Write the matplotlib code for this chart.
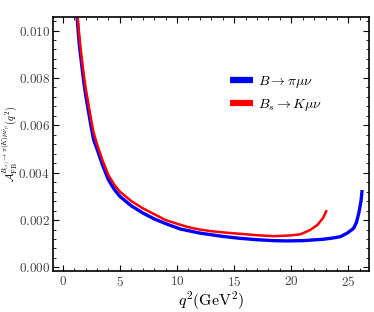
import matplotlib
matplotlib.use("Agg")
import matplotlib.pyplot as plt
from matplotlib.ticker import MultipleLocator, FuncFormatter

plt.rcParams['mathtext.fontset'] = 'cm'
plt.rcParams['font.family'] = ['DejaVu Serif']

# B -> pi mu nu (blue)
q2_B = [1.0, 1.25, 1.45, 1.6, 1.85, 2.0, 2.25, 2.5, 2.7, 3.0, 3.5, 4.0, 4.5, 5.0, 6.0, 7.0, 8.0, 9.0,
        10.3, 11.0, 12.0, 13.0, 14.0, 15.5, 17.0, 18.5, 19.6, 21.0, 22.8, 23.6, 24.3, 24.9, 25.45,
        25.7, 25.9, 26.1, 26.2]
A_B = [0.0135, 0.0106, 0.0094, 0.0088, 0.0078, 0.0073, 0.0066, 0.0059, 0.0054, 0.0050, 0.0043, 0.0037,
       0.0033, 0.0030, 0.0026, 0.0023, 0.00205, 0.00185, 0.00162, 0.00155, 0.00145, 0.00138, 0.00131,
       0.00123, 0.00117, 0.00113, 0.00112, 0.00113, 0.00119, 0.00124, 0.0013, 0.00145, 0.00165,
       0.0019, 0.00228, 0.0028, 0.00327]

# Bs -> K mu nu (red)
q2_Bs = [1.1, 1.3, 1.45, 1.6, 1.85, 2.0, 2.25, 2.5, 2.7, 3.0, 3.5, 4.0, 4.5, 5.0, 6.0, 7.0, 8.0, 9.0,
         10.3, 11.0, 12.0, 13.0, 14.0, 15.5, 17.0, 18.5, 19.9, 20.8, 21.65, 22.3, 22.8, 23.1]
A_Bs = [0.0128, 0.0106, 0.0098, 0.0091, 0.0081, 0.0076, 0.0069, 0.0062, 0.0057, 0.0052, 0.0045, 0.0039,
        0.0035, 0.0032, 0.0028, 0.0025, 0.00225, 0.0020, 0.0018, 0.0017, 0.0016, 0.00153, 0.00148,
        0.00142, 0.00136, 0.00132, 0.00135, 0.0014, 0.00158, 0.0018, 0.0021, 0.00242]

labels = [r'$B\to\pi\mu\nu$', r'$B_s\to K\mu\nu$']

fig = plt.figure(figsize=(3.74, 3.12), dpi=100)
ax = fig.add_axes([53/374, 41/312, 316/374, 254/312])

ax.plot(q2_B, A_B, color='#0000ff', lw=2.4, solid_capstyle='butt', solid_joinstyle='round', label=labels[0])
ax.plot(q2_Bs, A_Bs, color='#ff0000', lw=1.8, solid_capstyle='butt', solid_joinstyle='round', label=labels[1])

ax.set_xlim(-0.85, 26.8)
ax.set_ylim(-0.00015, 0.01057)

ax.xaxis.set_major_locator(MultipleLocator(5))
ax.xaxis.set_minor_locator(MultipleLocator(1))
ax.yaxis.set_major_locator(MultipleLocator(0.002))
ax.yaxis.set_minor_locator(MultipleLocator(0.0004))
ax.xaxis.set_major_formatter(FuncFormatter(lambda v, p: r'$%d$' % round(v)))
ax.yaxis.set_major_formatter(FuncFormatter(lambda v, p: r'$%.3f$' % v))

ax.tick_params(which='both', direction='in', top=True, right=True, labelsize=9.5, colors='black')
ax.tick_params(which='major', length=4, width=0.8)
ax.tick_params(which='minor', length=2.2, width=0.6)
ax.tick_params(axis='y', pad=2.0)
ax.tick_params(axis='x', pad=3.0)
for lab in ax.get_xticklabels() + ax.get_yticklabels():
    lab.set_color('#444444')
for s in ax.spines.values():
    s.set_linewidth(1.2)

ax.set_xlabel(r'$q^2(\mathrm{GeV}^2)$', fontsize=11.5)
ax.xaxis.set_label_coords(0.5, -0.072, transform=ax.transAxes)
ax.xaxis.label.set_va('top')
ax.set_ylabel(r'$\mathcal{A}_{\rm FB}^{B_{(s)}\to\pi(K)\mu\bar{\nu}_\mu}(q^2)$', fontsize=7.3)
ax.yaxis.set_label_coords(-0.104, 0.5, transform=ax.transAxes)

leg = ax.legend(loc='center left', bbox_to_anchor=(0.56, 0.70), frameon=False,
                borderaxespad=0, borderpad=0, handlelength=1.65, handletextpad=0.4,
                labelspacing=0.5, fontsize=10)
for h in leg.get_lines():
    h.set_linewidth(4.5)

fig.savefig('out.png', dpi=100)
